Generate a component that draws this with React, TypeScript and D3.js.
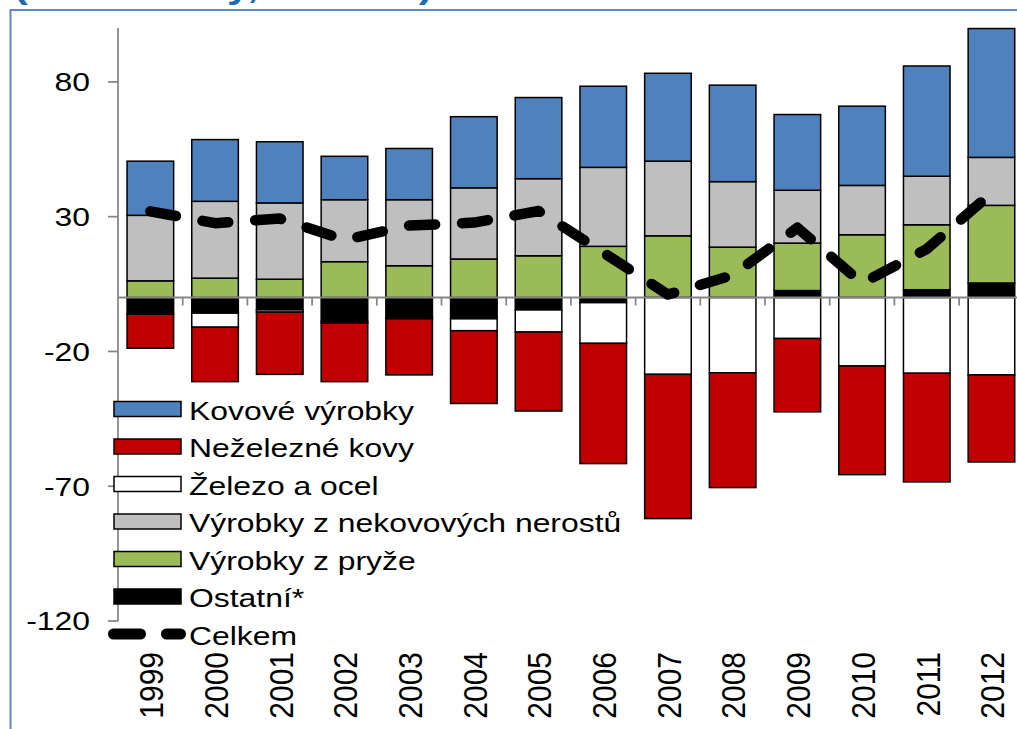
import React from "react";
import * as d3 from "d3";

const years = ["1999","2000","2001","2002","2003","2004","2005","2006","2007","2008","2009","2010","2011","2012"];
const kovove = [20.1, 22.9, 22.7, 16.1, 19.0, 26.4, 30.1, 30.1, 32.6, 35.8, 28.1, 29.4, 40.9, 47.8];
const nezelezne = [-12.6, -20.2, -23.1, -21.7, -20.8, -27.0, -29.3, -44.6, -53.5, -42.6, -27.2, -40.3, -40.3, -32.3];
const zelezo = [0, -5.2, -0.8, -0.6, -0.6, -4.4, -8.2, -15.1, -28.5, -27.9, -15.2, -25.4, -28.1, -28.7];
const nekovove = [24.3, 28.5, 28.3, 23.0, 24.5, 26.4, 28.6, 29.3, 27.7, 24.3, 19.6, 18.3, 18.0, 17.8];
const pryze = [6.2, 7.2, 6.8, 13.3, 11.8, 14.3, 15.5, 19.0, 22.9, 18.7, 17.6, 23.3, 24.1, 28.8];
const ostatni = [-6.2, -5.8, -4.6, -8.9, -7.3, -7.9, -4.6, -1.9, 0, 0, 2.6, 0, 2.9, 5.4];
const celkem = [32, 27.6, 29.3, 21.4, 26.7, 27.8, 32.1, 16.7, 1.1, 8.3, 25.9, 5.3, 18, 38.7];
const yTicks = [-120, -70, -20, 30, 80];

// stacking order (closest to zero first)
const seriesDefs = [
  { key: "ostatni", name: "Ostatní*", values: ostatni, color: "#000000" },
  { key: "pryze", name: "Výrobky z pryže", values: pryze, color: "#9BBB59" },
  { key: "nekovove", name: "Výrobky z nekovových nerostů", values: nekovove, color: "#BFBFBF" },
  { key: "zelezo", name: "Železo a ocel", values: zelezo, color: "#FFFFFF" },
  { key: "nezelezne", name: "Neželezné kovy", values: nezelezne, color: "#C00000" },
  { key: "kovove", name: "Kovové výrobky", values: kovove, color: "#4F81BD" },
];

const W = 1017;
const H = 729;
const SX = 1.25;

export default function App() {
  const y = d3.scaleLinear().domain([-120, 100]).range([621, 28]);
  const x = d3
    .scaleBand<string>()
    .domain(years)
    .range([118, 1023.8])
    .paddingInner(0.28)
    .paddingOuter(0.14);
  const bw = x.bandwidth();
  const step = x.step();

  const table = years.map((yr, i) => {
    const row: any = { year: yr };
    seriesDefs.forEach((s) => (row[s.key] = s.values[i]));
    return row;
  });
  const stacked = d3
    .stack<any>()
    .keys(seriesDefs.map((s) => s.key))
    .offset(d3.stackOffsetDiverging)(table);

  const line = d3
    .line<number>()
    .x((_, i) => (x(years[i]) as number) + bw / 2)
    .y((v) => y(v));

  const legendOrder = [...seriesDefs].reverse();
  const legX = 114;
  const legY0 = 409;
  const legDy = 37.5;

  const txt = (
    tx: number,
    ty: number,
    s: string,
    anchor: string,
    fs = 25.5
  ) => (
    <text
      transform={`translate(${tx},${ty}) scale(${SX},1)`}
      textAnchor={anchor}
      fontSize={fs}
      fontFamily="'Liberation Sans', Arial, sans-serif"
      fill="#000"
    >
      {s}
    </text>
  );

  return (
    <svg
      width={W}
      height={H}
      style={{ position: "absolute", left: 0, top: 0, background: "#fff" }}
    >
      <rect x={0} y={0} width={W} height={H} fill="#fff" />
      {/* cut-off title */}
      <text
        transform={`translate(14,-2) scale(${SX},1)`}
        fontSize={33}
        fontWeight="bold"
        fontFamily="'Liberation Sans', Arial, sans-serif"
        fill="#1F6BB5"
      >
        (běžné ceny, mld. Kč)
      </text>
      {/* frame */}
      <rect x={10.5} y={10} width={W + 20} height={H + 20} fill="none" stroke="#5B8AC6" strokeWidth={2} />

      {/* y axis */}
      <line x1={118} x2={118} y1={y(100)} y2={y(-120)} stroke="#868686" strokeWidth={1.75} />
      {yTicks.map((t) => (
        <g key={t}>
          <line x1={108} x2={118} y1={y(t)} y2={y(t)} stroke="#868686" strokeWidth={1.75} />
          {txt(90, y(t) + 9.3, String(t), "end")}
        </g>
      ))}

      {/* bars */}
      {stacked.map((ser, si) => (
        <g key={ser.key}>
          {ser.map((d, i) => {
            if (d[1] - d[0] === 0) return null;
            return (
              <rect
                key={i}
                x={x(years[i]) as number}
                width={bw}
                y={y(d[1])}
                height={y(d[0]) - y(d[1])}
                fill={seriesDefs[si].color}
                stroke="#000"
                strokeWidth={1.5}
              />
            );
          })}
        </g>
      ))}

      {/* zero axis */}
      <line x1={118} x2={1024} y1={y(0)} y2={y(0)} stroke="#868686" strokeWidth={2} />
      {years.map((_, i) => (
        <line
          key={i}
          x1={118 + (i + 1) * step}
          x2={118 + (i + 1) * step}
          y1={y(0)}
          y2={y(0) + 8}
          stroke="#868686"
          strokeWidth={1.75}
        />
      ))}

      {/* total line */}
      <path
        d={line(celkem) || ""}
        fill="none"
        stroke="#000"
        strokeWidth={10.5}
        strokeLinecap="round"
        strokeLinejoin="round"
        strokeDasharray="26 27"
      />

      {/* x labels */}
      {years.map((yr) => {
        const cx = (x(yr) as number) + bw / 2 + 1;
        return (
          <text
            key={yr}
            transform={`translate(${cx + 11.8},652) scale(1.1,1) rotate(-90)`}
            textAnchor="end"
            fontSize={30}
            fontFamily="'Liberation Sans', Arial, sans-serif"
            fill="#000"
          >
            {yr}
          </text>
        );
      })}

      {/* legend */}
      {legendOrder.map((s, i) => {
        const cy = legY0 + i * legDy;
        return (
          <g key={s.key}>
            <rect x={legX} y={cy - 7.5} width={67} height={15} fill={s.color} stroke="#000" strokeWidth={1.5} />
            {txt(189, cy + 10.5, s.name, "start")}
          </g>
        );
      })}
      <g>
        <line
          x1={113.5}
          x2={180.5}
          y1={legY0 + 6 * legDy}
          y2={legY0 + 6 * legDy}
          stroke="#000"
          strokeWidth={11}
          strokeLinecap="round"
          strokeDasharray="27 26"
        />
        {txt(189, legY0 + 6 * legDy + 10.5, "Celkem", "start")}
      </g>
    </svg>
  );
}
